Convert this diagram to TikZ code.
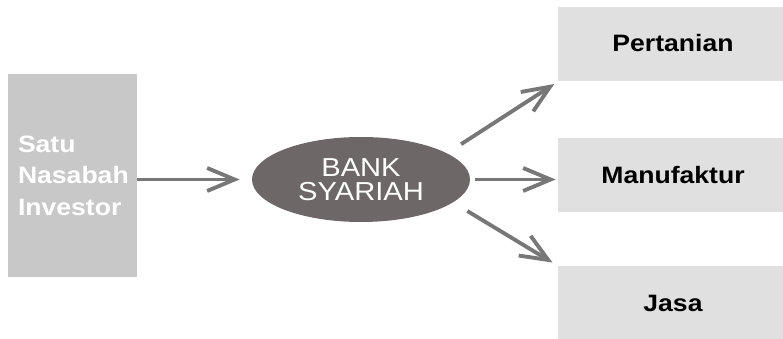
\documentclass[tikz,border=0pt]{standalone}
\usepackage{fontspec}
\setmainfont{Liberation Sans}[FakeStretch=1.12]
\usepackage{xcolor}
\usepackage{tikz}
\usetikzlibrary{arrows.meta,positioning,shapes.geometric}

\definecolor{boxgray}{HTML}{C8C8C8}
\definecolor{sectorgray}{HTML}{E0E0E0}
\definecolor{bankgray}{HTML}{6D6867}
\definecolor{arrowgray}{HTML}{777777}

\begin{document}
\begin{tikzpicture}[
    source/.style={rectangle, fill=boxgray, minimum width=2.58cm, minimum height=4.06cm,
                   text width=2.18cm, inner xsep=0.2cm, align=left, text=white,
                   font=\fontsize{13.5}{18}\selectfont\bfseries},
    bank/.style={ellipse, fill=bankgray, minimum width=4.36cm, minimum height=1.7cm,
                 inner sep=0pt, align=center, text=white, font=\fontsize{14.8}{14}\selectfont},
    sector/.style={rectangle, fill=sectorgray, minimum width=4.6cm, minimum height=1.48cm,
                   align=center, font=\fontsize{13.5}{14}\selectfont\bfseries},
    arrow/.style={-{Straight Barb[length=5.5mm, width=4.6mm, line width=2.2pt]},
                  line width=2.2pt, draw=arrowgray}
]
    \useasboundingbox (0,0) rectangle (15.66,6.78);

    % Source of funds
    \node[source] (investor) at (1.45, 3.27) {Satu\\Nasabah\\Investor};

    % Intermediary
    \node[bank] (bank) at (7.22, 3.19) {BANK\\SYARIAH};

    % Sectors
    \node[sector] (pertanian) at (13.46, 5.89) {\raisebox{0.06cm}{Pertanian}};
    \node[sector] (manufaktur) at (13.46, 3.28) {Manufaktur};
    \node[sector] (jasa) at (13.46, 0.72) {Jasa};

    % Arrows
    \draw[arrow, shorten >=0.24cm] (investor.east |- bank.west) -- (bank.west);
    \draw[arrow, shorten <=0.33cm, shorten >=0.08cm] (bank.17) -- (pertanian.south west);
    \draw[arrow, shorten <=0.1cm, shorten >=0.04cm] (bank.east) -- (bank.east -| manufaktur.west);
    \draw[arrow, shorten <=0.33cm, shorten >=0.12cm] (bank.-14) -- (jasa.north west);
\end{tikzpicture}
\end{document}
